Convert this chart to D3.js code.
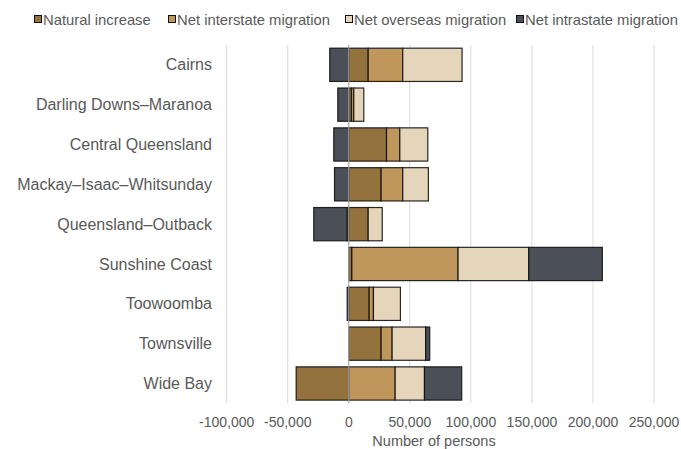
<!DOCTYPE html>
<html>
<head>
<meta charset="utf-8">
<script src="https://cdn.jsdelivr.net/npm/d3@7"></script>
<style>
  html, body { margin: 0; padding: 0; background: #fff; }
  svg { display: block; font-family: "Liberation Sans", Arial, sans-serif; }
</style>
</head>
<body>
<svg id="chart" width="681" height="449"></svg>
<script>
// Components of population change by Queensland region
const categories = [
  "Cairns",
  "Darling Downs\u2013Maranoa",
  "Central Queensland",
  "Mackay\u2013Isaac\u2013Whitsunday",
  "Queensland\u2013Outback",
  "Sunshine Coast",
  "Toowoomba",
  "Townsville",
  "Wide Bay"
];
const seriesNames = ["Natural increase", "Net interstate migration", "Net overseas migration", "Net intrastate migration"];
const naturalIncrease = [15900, 2200, 30900, 26500, 15900, 2500, 16700, 26500, -43100];
const netInterstate   = [28300, 1900, 10900, 17700, -1400, 87000, 3500, 9000, 38000];
const netOverseas     = [48600, 8200, 22900, 21000, 11500, 57900, 22100, 27500, 24000];
const netIntrastate   = [-15600, -9000, -12300, -11700, -27300, 60300, -1300, 3300, 30500];
const xTicks = [-100000, -50000, 0, 50000, 100000, 150000, 200000, 250000];
const colors = ["#94723e", "#bf965c", "#e5d5bb", "#4b4f57"];

const svg = d3.select("#chart");
const margin = { left: 226.7, right: 27, top: 45, bottom: 45.7 };
const W = 681, H = 449;

const rows = categories.map((c, i) => ({
  cat: c,
  s0: naturalIncrease[i],
  s1: netInterstate[i],
  s2: netOverseas[i],
  s3: netIntrastate[i]
}));
const keys = ["s0", "s1", "s2", "s3"];

const stacked = d3.stack().keys(keys).offset(d3.stackOffsetDiverging)(rows);

const x = d3.scaleLinear().domain([-100000, 250000]).range([margin.left, W - margin.right]);
const y = d3.scaleBand().domain(categories).range([margin.top, H - margin.bottom]).paddingInner(0.165).paddingOuter(0.08);

// vertical gridlines
svg.append("g").selectAll("line").data(xTicks.filter(d => d !== 0)).join("line")
  .attr("x1", d => x(d)).attr("x2", d => x(d))
  .attr("y1", margin.top).attr("y2", H - margin.bottom)
  .attr("stroke", "#d9d9d9").attr("stroke-width", 1);

// stacked bars
svg.append("g").selectAll("g").data(stacked).join("g")
  .attr("fill", (d, i) => colors[i])
  .selectAll("rect").data(d => d).join("rect")
  .attr("x", d => x(Math.min(d[0], d[1])))
  .attr("width", d => Math.abs(x(d[1]) - x(d[0])))
  .attr("y", d => y(d.data.cat))
  .attr("height", y.bandwidth())
  .attr("stroke", "#111")
  .attr("stroke-opacity", 0.9)
  .attr("stroke-width", 1.2);

// zero line drawn over the bars
svg.append("line")
  .attr("x1", x(0)).attr("x2", x(0))
  .attr("y1", margin.top).attr("y2", H - margin.bottom)
  .attr("stroke", "#a6a6a6").attr("stroke-width", 1.2);

// category labels
svg.append("g").selectAll("text").data(categories).join("text")
  .attr("x", 212)
  .attr("y", d => y(d) + y.bandwidth() / 2)
  .attr("dy", "0.35em")
  .attr("text-anchor", "end")
  .attr("font-size", 16)
  .attr("fill", "#595959")
  .text(d => d);

// x tick labels (hyphen-minus for negatives)
const fmt = d3.format(",");
svg.append("g").selectAll("text").data(xTicks).join("text")
  .attr("x", d => x(d))
  .attr("y", 427)
  .attr("text-anchor", "middle")
  .attr("font-size", 14)
  .attr("fill", "#595959")
  .text(d => fmt(d).replace("\u2212", "-"));

// axis title
svg.append("text")
  .attr("x", 434).attr("y", 446)
  .attr("text-anchor", "middle")
  .attr("font-size", 14.5)
  .attr("fill", "#595959")
  .text("Number of persons");

// legend
const legendX = [34, 168, 345, 516];
const lg = svg.append("g").selectAll("g").data(seriesNames).join("g")
  .attr("transform", (d, i) => `translate(${legendX[i]},20)`);
lg.append("rect")
  .attr("x", 0.5).attr("y", -4.5).attr("width", 7).attr("height", 7)
  .attr("fill", (d, i) => colors[i])
  .attr("stroke", "#111").attr("stroke-width", 1);
lg.append("text")
  .attr("x", 9).attr("y", 0).attr("dy", "0.35em")
  .attr("font-size", 14.8)
  .attr("fill", "#595959")
  .text(d => d);
</script>
</body>
</html>
